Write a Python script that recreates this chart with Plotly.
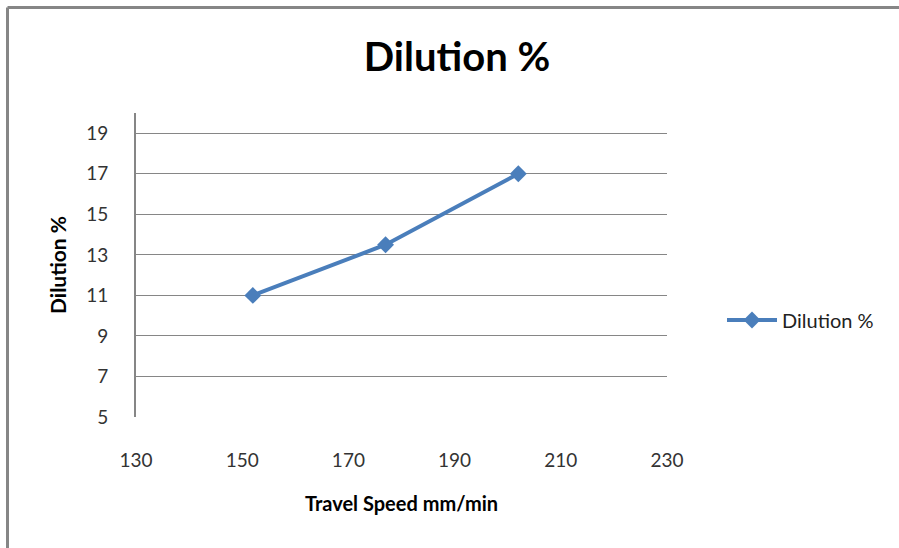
import plotly.graph_objects as go

# Dilution vs travel speed
travel_speed = [152, 177, 202]
dilution = [11, 13.5, 17]
x_ticks = [130, 150, 170, 190, 210, 230]
y_ticks = [5, 7, 9, 11, 13, 15, 17, 19]

LINE_COLOR = "#4a7ebb"
GRID_COLOR = "#868686"
FONT = "Lato, 'Open Sans', sans-serif"

fig = go.Figure()
fig.add_trace(go.Scatter(
    x=travel_speed, y=dilution, mode="lines+markers", name="Dilution %",
    line=dict(color=LINE_COLOR, width=4),
    marker=dict(symbol="diamond", size=13, color=LINE_COLOR),
))

W, H = 899, 548
L, R, T, B = 136, 232, 113, 131

fig.update_layout(
    width=W, height=H,
    margin=dict(l=L, r=R, t=T, b=B),
    paper_bgcolor="white", plot_bgcolor="white",
    font=dict(family=FONT, color="#222222"),
    title=dict(text="<b>Dilution %</b>", x=457 / W, xanchor="center",
               y=1 - 57 / H, yanchor="middle",
               font=dict(size=40, color="black", family=FONT)),
    showlegend=True,
    legend=dict(x=(722 - L) / (W - L - R), y=(H - B - 320) / (H - T - B),
                xanchor="left", yanchor="middle",
                font=dict(size=20, color="#222222", family=FONT),
                bgcolor="rgba(0,0,0,0)", itemwidth=50),
    xaxis=dict(range=[130, 230], tickvals=x_ticks, showgrid=False,
               zeroline=False, showline=False, ticks="",
               tickfont=dict(size=19, color="#333333"),
               ticklabelstandoff=30,
               title=dict(text="<b>Travel Speed mm/min</b>", standoff=26,
                          font=dict(size=20, color="black"))),
    yaxis=dict(range=[5, 20], tickvals=y_ticks, showgrid=True,
               gridcolor=GRID_COLOR, gridwidth=1, zeroline=False,
               showline=True, linecolor=GRID_COLOR, linewidth=2,
               ticks="", tickfont=dict(size=19, color="#333333"),
               ticklabelstandoff=22,
               title=dict(text="<b>Dilution %</b>", standoff=14,
                          font=dict(size=21, color="black"))),
)

# Chart-area frame along the top and left edges
fig.add_shape(type="line", xref="paper", yref="paper",
              x0=(7.5 - L) / (W - L - R), x1=(W - L) / (W - L - R),
              y0=(H - B - 7.5) / (H - T - B), y1=(H - B - 7.5) / (H - T - B),
              line=dict(color=GRID_COLOR, width=3))
fig.add_shape(type="line", xref="paper", yref="paper",
              x0=(7.5 - L) / (W - L - R), x1=(7.5 - L) / (W - L - R),
              y0=(H - B - 7.5) / (H - T - B), y1=-B / (H - T - B),
              line=dict(color=GRID_COLOR, width=3))

fig.write_html("out.html")
